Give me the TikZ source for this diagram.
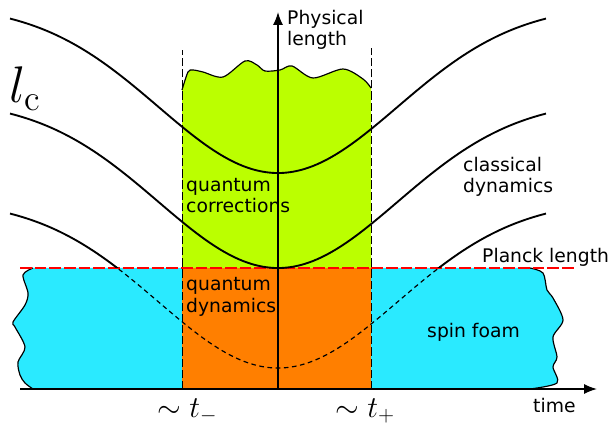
\documentclass[tikz,border=0pt]{standalone}
\usepackage{fontspec}
\setsansfont{DejaVu Sans}
\usepackage{tikz}
\usetikzlibrary{arrows.meta}
\definecolor{foamcyan}{RGB}{42,234,255}
\definecolor{corrgreen}{RGB}{187,255,0}
\definecolor{dynorange}{RGB}{255,127,0}
\tikzset{curve/.style={line width=1.6pt},
	wave/.style={line width=1pt, line join=round},
	bound/.style={line width=0.8pt, dash pattern=on 7pt off 2.5pt},
	axis/.style={line width=1.3pt, -{Latex[length=11pt,width=8.5pt]}},
	lbl/.style={font=\sffamily\fontsize{16}{18.5}\selectfont, align=left, inner sep=0pt, anchor=base west}}
\newcommand{\lengthcurve}{plot[domain=-268:268, samples=90, smooth] (\x, {-168*(1-exp(-(\x/169)^2))})}
\begin{document}
\begin{tikzpicture}[x=0.03cm, y=-0.03cm]
	\useasboundingbox (0,0) rectangle (609,426);

	\coordinate (origin) at (278,389);
	\coordinate (tstart) at (20,389);
	\coordinate (tend) at (597,389);
	\coordinate (ltop) at (278,12);
	\coordinate (tminus) at (182,389);
	\coordinate (tminustop) at (182,50);
	\coordinate (tplus) at (371,389);
	\coordinate (tplustop) at (371,48);
	\coordinate (planckl) at (20,268);
	\coordinate (planckr) at (575,268);

	% regions
	\fill[foamcyan] plot[smooth] coordinates {(33,268) (23,275) (28,293) (25,305) (13,322) (15,327) (25,347) (18,362) (20,375) (25,383) (33,389)}
		-- plot[smooth] coordinates {(530,389) (557,383) (553,367) (557,357) (553,337) (563,320) (553,298) (547,290) (543,273) (530,268)} -- cycle;
	\fill[dynorange] (182,268) rectangle (371,389);
	\fill[corrgreen] (182,268) -- (182,90)
		-- plot[smooth] coordinates {(182,90) (188,72) (193,70) (203,72) (223,77) (245,61) (257,65) (265,71) (280,70) (292,66) (313,78) (343,69) (363,79) (371,88)}
		-- (371,268) -- cycle;
	\draw[wave] plot[smooth] coordinates {(33,268) (23,275) (28,293) (25,305) (13,322) (15,327) (25,347) (18,362) (20,375) (25,383) (33,389)};
	\draw[wave] plot[smooth] coordinates {(530,389) (557,383) (553,367) (557,357) (553,337) (563,320) (553,298) (547,290) (543,273) (530,268)};
	\draw[wave] plot[smooth] coordinates {(182,90) (188,72) (193,70) (203,72) (223,77) (245,61) (257,65) (265,71) (280,70) (292,66) (313,78) (343,69) (363,79) (371,88)};

	\draw[bound] (tminus) -- (tminustop);
	\draw[bound] (tplus) -- (tplustop);
	\draw[red, line width=1.4pt, dash pattern=on 10pt off 2.5pt] (planckl) -- (planckr);

	% trajectories
	\draw[curve, shift={(278,173)}] \lengthcurve;
	\draw[curve, shift={(278,268)}] \lengthcurve;
	\begin{scope}
		\clip (0,0) rectangle (609,268);
		\draw[curve, shift={(278,368)}] \lengthcurve;
	\end{scope}
	\begin{scope}
		\clip (0,268) rectangle (609,426);
		\draw[line width=1pt, dash pattern=on 4pt off 3pt, shift={(278,368)}] \lengthcurve;
	\end{scope}

	\draw[axis] (tstart) -- (tend);
	\draw[axis] (origin) -- (ltop);

	\node[lbl] (physlen) at (287,46) {Physical\\length};
	\node[lbl] (qcorr) at (186,213) {quantum\\corrections};
	\node[lbl] (qdyn) at (186,312) {quantum\\dynamics};
	\node[lbl] (cldyn) at (463,193) {classical\\dynamics};
	\node[lbl] (planck) at (482,263) {Planck length};
	\node[lbl] (foam) at (427,337) {spin foam};
	\node[lbl] (time) at (533,412) {time};
	\node[inner sep=0pt, anchor=base west, font=\huge, scale=2.12] (lc) at (9,103) {$l_{\mathrm{c}}$};
	\node[inner sep=0pt, anchor=base west, font=\LARGE, scale=1.5] (tm) at (157,417) {$\sim t_-$};
	\node[inner sep=0pt, anchor=base west, font=\LARGE, scale=1.5] (tp) at (335,417) {$\sim t_+$};

\end{tikzpicture}
\end{document}
